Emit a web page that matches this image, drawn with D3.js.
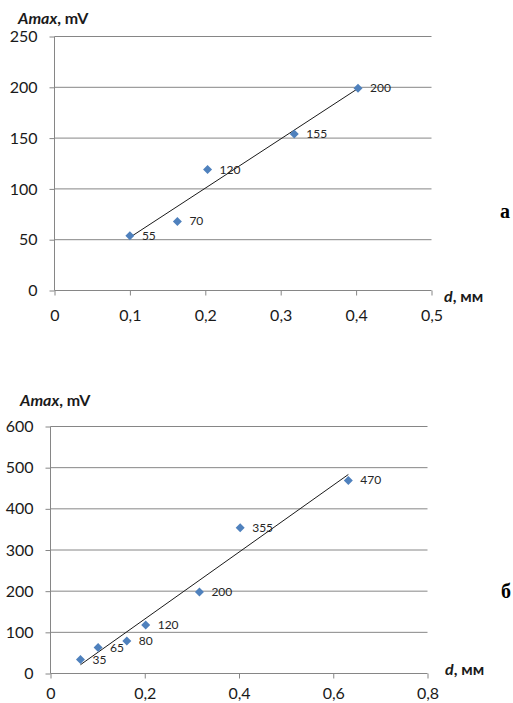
<!DOCTYPE html>
<html>
<head>
<meta charset="utf-8">
<script src="https://cdn.jsdelivr.net/npm/d3@7"></script>
<style>
  body { margin: 0; background: #fff; }
  svg { display: block; font-family: Lato, "Open Sans", sans-serif; }
</style>
</head>
<body>
<div id="chart"></div>
<script>
// chart a
const aX = [0.1, 0.163, 0.203, 0.318, 0.4025];
const aY = [54, 68, 119, 154, 199];
const aLabels = ["55", "70", "120", "155", "200"];
const aXTicks = [0, 0.1, 0.2, 0.3, 0.4, 0.5];
const aYTicks = [0, 50, 100, 150, 200, 250];

// chart b
const bX = [0.0636, 0.101, 0.162, 0.202, 0.316, 0.4025, 0.632];
const bY = [34, 63, 79, 118, 198, 354, 469];
const bLabels = ["35", "65", "80", "120", "200", "355", "470"];
const bXTicks = [0, 0.2, 0.4, 0.6, 0.8];
const bYTicks = [0, 100, 200, 300, 400, 500, 600];

const width = 513, height = 703;

const svg = d3.select("#chart")
    .append("svg")
    .attr("width", width)
    .attr("height", height);

const comma = d => String(d).replace(".", ",");

function drawChart(opt) {
    const g = svg.append("g");
    const x = d3.scaleLinear()
        .domain([opt.xTicks[0], opt.xTicks[opt.xTicks.length - 1]])
        .range([opt.left, opt.right]);
    const y = d3.scaleLinear()
        .domain([opt.yTicks[0], opt.yTicks[opt.yTicks.length - 1]])
        .range([opt.bottom, opt.top]);

    // horizontal grid
    g.selectAll(".grid")
        .data(opt.yTicks.slice(1))
        .enter()
        .append("line")
        .attr("x1", opt.left)
        .attr("x2", opt.right)
        .attr("y1", d => y(d))
        .attr("y2", d => y(d))
        .attr("stroke", "#868686")
        .attr("stroke-width", 1);

    // y axis
    const yAxis = g.append("g")
        .attr("transform", `translate(${opt.left},0)`)
        .call(d3.axisLeft(y).tickValues(opt.yTicks).tickSize(5).tickPadding(12).tickFormat(comma));
    // x axis
    const xAxis = g.append("g")
        .attr("transform", `translate(0,${opt.bottom})`)
        .call(d3.axisBottom(x).tickValues(opt.xTicks).tickSize(5).tickPadding(opt.xPad).tickFormat(comma));

    [yAxis, xAxis].forEach(ax => {
        ax.select(".domain").attr("stroke", "#868686").attr("d", null);
        ax.selectAll(".tick line").attr("stroke", "#868686");
        ax.selectAll(".tick text")
            .attr("fill", "#1a1a1a")
            .style("font-size", "16px")
            .style("font-family", "Lato, sans-serif");
    });
    g.append("line")
        .attr("x1", opt.left).attr("x2", opt.left)
        .attr("y1", opt.top).attr("y2", opt.bottom)
        .attr("stroke", "#868686");
    g.append("line")
        .attr("x1", opt.left).attr("x2", opt.right)
        .attr("y1", opt.bottom).attr("y2", opt.bottom)
        .attr("stroke", "#868686");

    // linear trendline (least squares)
    const mx = d3.mean(opt.xs), my = d3.mean(opt.ys);
    const slope = d3.sum(opt.xs, (v, i) => (v - mx) * (opt.ys[i] - my)) /
                  d3.sum(opt.xs, v => (v - mx) * (v - mx));
    const x0 = d3.min(opt.xs), x1 = d3.max(opt.xs);
    g.append("line")
        .attr("x1", x(x0)).attr("y1", y(my + slope * (x0 - mx)))
        .attr("x2", x(x1)).attr("y2", y(my + slope * (x1 - mx)))
        .attr("stroke", "#1a1a1a")
        .attr("stroke-width", 1);

    // points
    const pts = opt.xs.map((v, i) => ({ x: v, y: opt.ys[i], label: opt.labels[i] }));
    g.selectAll(".pt")
        .data(pts)
        .enter()
        .append("path")
        .attr("d", "M0,-4.5L4.5,0L0,4.5L-4.5,0Z")
        .attr("transform", d => `translate(${x(d.x)},${y(d.y)})`)
        .attr("fill", "#4f81bd");

    g.selectAll(".lbl")
        .data(pts)
        .enter()
        .append("text")
        .attr("x", d => x(d.x) + 12)
        .attr("y", d => y(d.y) + 4)
        .attr("fill", "#262626")
        .style("font-size", "12px")
        .text(d => d.label);

    // axis titles
    const yt = g.append("text")
        .attr("x", opt.yTitleX)
        .attr("y", opt.yTitleY)
        .attr("font-weight", "bold")
        .style("font-size", "16px")
        .attr("fill", "#1a1a1a");
    yt.append("tspan").attr("font-style", "italic").text("Amax");
    yt.append("tspan").text(", mV");

    const xt = g.append("text")
        .attr("x", opt.xTitleX)
        .attr("y", opt.xTitleY)
        .attr("font-weight", "bold")
        .style("font-size", "16px")
        .attr("fill", "#1a1a1a");
    xt.append("tspan").attr("font-style", "italic").text("d");
    xt.append("tspan").text(", мм");

    svg.append("text")
        .attr("x", opt.tagX)
        .attr("y", opt.tagY)
        .attr("font-family", "'Liberation Serif', serif")
        .attr("font-weight", "bold")
        .attr("font-size", "20px")
        .attr("fill", "#000")
        .text(opt.tag);
}

drawChart({
    xs: aX, ys: aY, labels: aLabels, xTicks: aXTicks, yTicks: aYTicks,
    left: 54.5, right: 431.5, top: 36.5, bottom: 290.5, xPad: 14,
    yTitleX: 18, yTitleY: 24, xTitleX: 444, xTitleY: 302,
    tag: "a", tagX: 500, tagY: 218
});

drawChart({
    xs: bX, ys: bY, labels: bLabels, xTicks: bXTicks, yTicks: bYTicks,
    left: 50.5, right: 427.5, top: 426.5, bottom: 673.5, xPad: 9,
    yTitleX: 20, yTitleY: 406, xTitleX: 445, xTitleY: 675,
    tag: "б", tagX: 501, tagY: 598
});
</script>
</body>
</html>
